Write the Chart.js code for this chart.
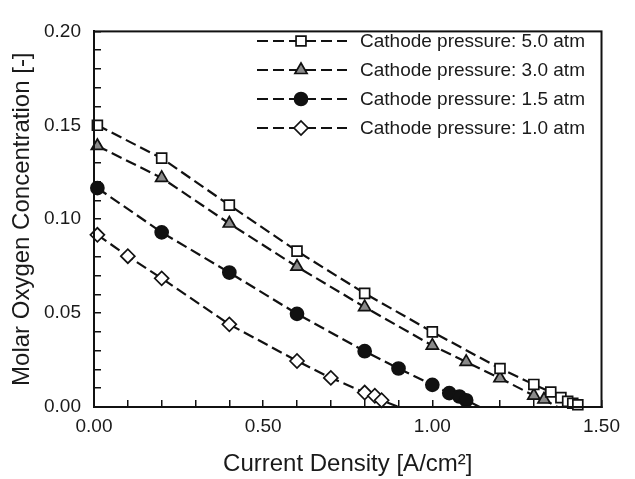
<!DOCTYPE html>
<html>
<head>
<meta charset="utf-8">
<script src="https://cdn.jsdelivr.net/npm/chart.js@4.4.1/dist/chart.umd.min.js"></script>
<style>
  body { margin: 0; background: #fff; }
  canvas { display: block; }
</style>
</head>
<body>
<canvas id="o2_chart" width="635" height="479"></canvas>
<script>
// 데이터
const seriesNames = [
  'Cathode pressure: 5.0 atm',
  'Cathode pressure: 3.0 atm',
  'Cathode pressure: 1.5 atm',
  'Cathode pressure: 1.0 atm'
];

// 5.0 atm
const cur50 = [0.01, 0.20, 0.40, 0.60, 0.80, 1.00, 1.20, 1.30, 1.35, 1.38, 1.40, 1.415, 1.43];
const o2_50 = [0.150, 0.1325, 0.1075, 0.083, 0.0605, 0.040, 0.0205, 0.012, 0.008, 0.005, 0.003, 0.002, 0.0012];

// 3.0 atm
const cur30 = [0.01, 0.20, 0.40, 0.60, 0.80, 1.00, 1.10, 1.20, 1.30, 1.33, 1.37];
const o2_30 = [0.139, 0.122, 0.0977, 0.0747, 0.0532, 0.0327, 0.024, 0.0153, 0.0061, 0.004, 0.0];

// 1.5 atm
const cur15 = [0.01, 0.20, 0.40, 0.60, 0.80, 0.90, 1.00, 1.05, 1.08, 1.10, 1.14];
const o2_15 = [0.1166, 0.093, 0.0716, 0.0496, 0.0297, 0.0205, 0.0118, 0.0074, 0.0056, 0.0036, 0.0];

// 1.0 atm
const cur10 = [0.01, 0.10, 0.20, 0.40, 0.60, 0.70, 0.80, 0.83, 0.85, 0.90];
const o2_10 = [0.0917, 0.0803, 0.0685, 0.044, 0.0245, 0.0155, 0.0077, 0.006, 0.0036, 0.0];

// 마커 개수 (나머지는 선 끝점만)
const markerCounts = [13, 10, 10, 9];

const xTicksLabeled = [0, 0.5, 1.0, 1.5];

// 스타일
const markerStyles = [
  { pointStyle: 'rect', radius: 7, fill: '#ffffff' },
  { pointStyle: 'triangle', radius: 7, fill: '#8a8a8a' },
  { pointStyle: 'circle', radius: 6.5, fill: '#111111' },
  { pointStyle: 'rectRot', radius: 7, fill: '#ffffff' }
];

const dashPattern = [11, 5];

function toPoints(xs, ys) {
  return xs.map((x, i) => ({ x: x, y: ys[i] }));
}

function makeDataset(idx, xs, ys) {
  const m = markerStyles[idx];
  const radii = xs.map((_, i) => i < markerCounts[idx] ? m.radius : 0);
  return {
    label: seriesNames[idx],
    data: toPoints(xs, ys),
    borderColor: '#111111',
    borderWidth: 2.2,
    borderDash: dashPattern,
    tension: 0,
    fill: false,
    clip: false,
    pointStyle: m.pointStyle,
    pointRadius: radii,
    pointBackgroundColor: m.fill,
    pointBorderColor: '#111111',
    pointBorderWidth: 1.7
  };
}

// 범례, 테두리 그리는 플러그인
function drawMarker(ctx, style, r, x, y) {
  ctx.beginPath();
  if (style === 'rect') {
    const s = Math.SQRT1_2 * r;
    ctx.rect(x - s, y - s, 2 * s, 2 * s);
  } else if (style === 'triangle') {
    ctx.moveTo(x, y - r);
    ctx.lineTo(x + r * 0.866, y + r * 0.5);
    ctx.lineTo(x - r * 0.866, y + r * 0.5);
    ctx.closePath();
  } else if (style === 'rectRot') {
    ctx.moveTo(x - r, y);
    ctx.lineTo(x, y - r);
    ctx.lineTo(x + r, y);
    ctx.lineTo(x, y + r);
    ctx.closePath();
  } else {
    ctx.arc(x, y, r, 0, Math.PI * 2);
  }
  ctx.fill();
  ctx.stroke();
}

const framePlugin = {
  id: 'frameAndLegend',
  afterDraw(chart) {
    const ctx = chart.ctx;
    const a = chart.chartArea;
    ctx.save();
    // 테두리
    ctx.strokeStyle = '#111111';
    ctx.lineWidth = 2;
    ctx.setLineDash([]);
    ctx.strokeRect(a.left, a.top, a.right - a.left, a.bottom - a.top);

    // 범례
    const rowY = [41, 70, 99, 128];
    ctx.font = '19px "Liberation Sans", Arial, sans-serif';
    ctx.textBaseline = 'middle';
    ctx.textAlign = 'left';
    seriesNames.forEach((name, i) => {
      const y = rowY[i];
      ctx.strokeStyle = '#111111';
      ctx.lineWidth = 2.2;
      ctx.setLineDash(dashPattern);
      ctx.beginPath();
      ctx.moveTo(257, y);
      ctx.lineTo(347, y);
      ctx.stroke();
      ctx.setLineDash([]);
      ctx.lineWidth = 1.7;
      ctx.fillStyle = markerStyles[i].fill;
      drawMarker(ctx, markerStyles[i].pointStyle, markerStyles[i].radius, 301, y);
      ctx.fillStyle = '#1a1a1a';
      ctx.fillText(name, 360, y + 1);
    });
    ctx.restore();
  }
};

function isLabeled(v, list) {
  return list.some(t => Math.abs(t - v) < 1e-6);
}

const ctx = document.getElementById('o2_chart').getContext('2d');
const chart = new Chart(ctx, {
  type: 'line',
  data: {
    datasets: [
      makeDataset(0, cur50, o2_50),
      makeDataset(1, cur30, o2_30),
      makeDataset(2, cur15, o2_15),
      makeDataset(3, cur10, o2_10)
    ]
  },
  options: {
    responsive: false,
    animation: false,
    layout: { padding: { top: 16, right: 20, left: 0, bottom: 0 } },
    plugins: {
      legend: { display: false },
      tooltip: { enabled: false }
    },
    scales: {
      x: {
        type: 'linear',
        min: 0,
        max: 1.5,
        afterFit: (scale) => { scale.height = 72; },
        grid: {
          drawOnChartArea: false,
          drawTicks: true,
          tickLength: -7,
          color: '#111111',
          lineWidth: 1.5
        },
        border: { color: '#111111', width: 2 },
        ticks: {
          stepSize: 0.1,
          autoSkip: false,
          maxRotation: 0,
          padding: 15,
          color: '#1a1a1a',
          font: { family: '"Liberation Sans", Arial, sans-serif', size: 19 },
          callback: (v) => isLabeled(v, xTicksLabeled) ? v.toFixed(2) : ''
        },
        title: {
          display: true,
          text: 'Current Density [A/cm²]',
          color: '#1a1a1a',
          padding: { top: 0, bottom: 0 },
          font: { family: '"Liberation Sans", Arial, sans-serif', size: 24 }
        }
      },
      y: {
        type: 'linear',
        min: 0,
        max: 0.2,
        afterFit: (scale) => { scale.width = 94; },
        grid: {
          drawOnChartArea: false,
          drawTicks: true,
          tickLength: -7,
          color: '#111111',
          lineWidth: 1.5
        },
        border: { color: '#111111', width: 2 },
        ticks: {
          stepSize: 0.01,
          autoSkip: false,
          padding: 20,
          color: '#1a1a1a',
          font: { family: '"Liberation Sans", Arial, sans-serif', size: 19 },
          callback: (v) => {
            const k = v * 20;
            return Math.abs(k - Math.round(k)) < 1e-6 ? v.toFixed(2) : '';
          }
        },
        title: {
          display: true,
          text: 'Molar Oxygen Concentration [-]',
          color: '#1a1a1a',
          padding: { top: 8, bottom: 0 },
          font: { family: '"Liberation Sans", Arial, sans-serif', size: 24 }
        }
      }
    }
  },
  plugins: [framePlugin]
});
</script>
</body>
</html>
